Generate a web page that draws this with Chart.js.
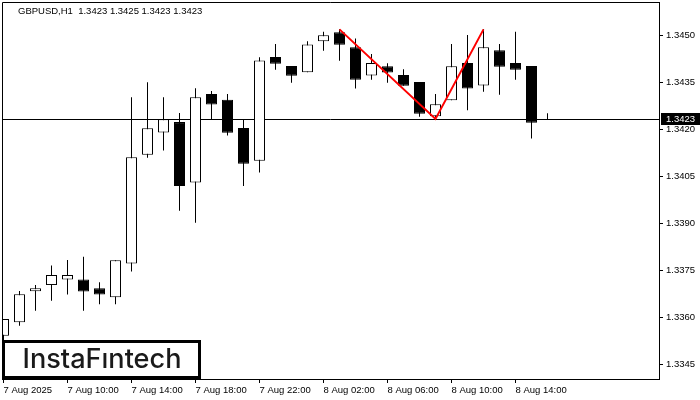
<!DOCTYPE html>
<html>
<head>
<meta charset="utf-8">
<script src="https://cdn.jsdelivr.net/npm/chart.js@4.4.0/dist/chart.umd.min.js"></script>
<style>
  html, body { margin: 0; padding: 0; background: #fff; }
  canvas { display: block; }
</style>
</head>
<body>
<canvas id="priceChart" width="700" height="400"></canvas>
<script>
// GBPUSD H1 candles, 7 Aug 06:00 .. 8 Aug 16:00 (one per hour)
const opens  = [1.33540, 1.33583, 1.33682, 1.33702, 1.33720, 1.33720, 1.33692, 1.33663, 1.33771, 1.34118,
                1.34189, 1.34222, 1.34029, 1.34312, 1.34293, 1.34203, 1.34099, 1.34430, 1.34401, 1.34381,
                1.34480, 1.34509, 1.34461, 1.34371, 1.34400, 1.34372, 1.34350, 1.34241, 1.34292, 1.34411,
                1.34339, 1.34451, 1.34411, 1.34401, 1.34230];
const highs  = [1.33594, 1.33683, 1.33702, 1.33764, 1.33782, 1.33792, 1.33711, 1.33781, 1.34301, 1.34349,
                1.34301, 1.34251, 1.34330, 1.34321, 1.34312, 1.34231, 1.34429, 1.34471, 1.34401, 1.34480,
                1.34510, 1.34518, 1.34489, 1.34439, 1.34410, 1.34391, 1.34350, 1.34312, 1.34471, 1.34500,
                1.34518, 1.34471, 1.34510, 1.34401, 1.34250];
const lows   = [1.33510, 1.33572, 1.33620, 1.33652, 1.33672, 1.33620, 1.33641, 1.33641, 1.33745, 1.34108,
                1.34131, 1.33939, 1.33901, 1.34231, 1.34179, 1.34018, 1.34061, 1.34389, 1.34348, 1.34381,
                1.34450, 1.34418, 1.34329, 1.34357, 1.34348, 1.34338, 1.34239, 1.34232, 1.34292, 1.34260,
                1.34319, 1.34309, 1.34357, 1.34170, 1.34230];
const closes = [1.33594, 1.33673, 1.33692, 1.33734, 1.33734, 1.33681, 1.33672, 1.33781, 1.34110, 1.34202,
                1.34231, 1.34018, 1.34301, 1.34278, 1.34188, 1.34089, 1.34419, 1.34408, 1.34370, 1.34470,
                1.34499, 1.34469, 1.34357, 1.34411, 1.34380, 1.34338, 1.34249, 1.34279, 1.34400, 1.34329,
                1.34461, 1.34399, 1.34389, 1.34220, 1.34230];

const xTickIndexes = [0, 4, 8, 12, 16, 20, 24, 28, 32];
const xTickLabels = ['7 Aug 2025', '7 Aug 10:00', '7 Aug 14:00', '7 Aug 18:00', '7 Aug 22:00',
                     '8 Aug 02:00', '8 Aug 06:00', '8 Aug 10:00', '8 Aug 14:00'];
const yTickValues = [1.3345, 1.3360, 1.3375, 1.3390, 1.3405, 1.3420, 1.3435, 1.3450];

const lastPrice = 1.3423;
const titleText = 'GBPUSD,H1  1.3423 1.3425 1.3423 1.3423';
const logoText = 'InstaF\u0131ntech';

// double top: first peak, neckline low, second peak
const patternIdx = [21, 27, 30];

document.addEventListener('DOMContentLoaded', () => {
  const canvas = document.getElementById('priceChart');
  const ctx = canvas.getContext('2d');

  const idx = opens.map((_, i) => i);
  const wicks = idx.map(i => ({ x: i, y: [lows[i], highs[i]] }));
  const bodies = idx.map(i => ({ x: i, y: [opens[i], closes[i]] }));
  const bodyColors = idx.map(i => (closes[i] >= opens[i] ? '#ffffff' : '#000000'));
  const pattern = [
    { x: patternIdx[0], y: highs[patternIdx[0]] },
    { x: patternIdx[1], y: lows[patternIdx[1]] },
    { x: patternIdx[2], y: highs[patternIdx[2]] },
  ];

  const axisFont = { family: '"Liberation Sans", Arial, sans-serif', size: 9.5 };

  const overlay = {
    id: 'overlay',
    beforeDatasetsDraw(chart) {
      const { ctx, chartArea: a, scales: { y } } = chart;
      const py = Math.floor(y.getPixelForValue(lastPrice)) + 0.5;
      ctx.save();
      ctx.strokeStyle = '#000';
      ctx.lineWidth = 1;
      ctx.beginPath();
      ctx.moveTo(a.left, py);
      ctx.lineTo(a.right, py);
      ctx.stroke();
      ctx.restore();
    },
    afterDraw(chart) {
      const { ctx, chartArea: a, scales: { y } } = chart;
      ctx.save();

      // left and top frame lines
      ctx.strokeStyle = '#000';
      ctx.lineWidth = 1;
      ctx.beginPath();
      ctx.moveTo(a.left + 0.5, a.bottom);
      ctx.lineTo(a.left + 0.5, a.top + 0.5);
      ctx.lineTo(a.right, a.top + 0.5);
      ctx.stroke();

      // symbol header
      ctx.fillStyle = '#000';
      ctx.font = '9.5px "Liberation Sans", Arial, sans-serif';
      ctx.textAlign = 'left';
      ctx.textBaseline = 'alphabetic';
      ctx.fillText(titleText, 18, 14);

      // current price label
      const py = Math.floor(y.getPixelForValue(lastPrice));
      ctx.fillStyle = '#000';
      ctx.fillRect(a.right + 2, py - 6, 700 - a.right - 2, 12);
      ctx.fillStyle = '#fff';
      ctx.textBaseline = 'middle';
      ctx.fillText(lastPrice.toFixed(4), a.right + 7, py + 0.5);

      // logo box
      ctx.fillStyle = '#fff';
      ctx.fillRect(2, 340, 199, 39);
      ctx.strokeStyle = '#000';
      ctx.lineWidth = 3;
      ctx.strokeRect(3.5, 341.5, 196, 36);
      let size = 26;
      ctx.font = '500 ' + size + 'px Inter, "Open Sans", sans-serif';
      const w = ctx.measureText(logoText).width;
      size = size * 159 / w;
      ctx.font = '500 ' + size.toFixed(2) + 'px Inter, "Open Sans", sans-serif';
      ctx.fillStyle = '#1a1a1a';
      ctx.textBaseline = 'alphabetic';
      ctx.fillText(logoText, 22.5, 368);

      ctx.restore();
    },
  };

  new Chart(ctx, {
    type: 'bar',
    data: {
      datasets: [
        {
          type: 'line',
          data: pattern,
          borderColor: '#ff0000',
          borderWidth: 2,
          pointRadius: 0,
          fill: false,
          order: 0,
        },
        {
          data: bodies,
          backgroundColor: bodyColors,
          borderColor: '#000000',
          borderWidth: 1,
          borderSkipped: false,
          barThickness: 11,
          inflateAmount: 0,
          grouped: false,
          order: 1,
        },
        {
          data: wicks,
          backgroundColor: '#000000',
          borderWidth: 0,
          barThickness: 1,
          inflateAmount: 0,
          grouped: false,
          order: 2,
        },
      ],
    },
    options: {
      responsive: false,
      animation: false,
      layout: { padding: { left: 2, top: 2, right: 0, bottom: 0 } },
      plugins: {
        legend: { display: false },
        tooltip: { enabled: false },
      },
      scales: {
        x: {
          type: 'linear',
          offset: false,
          min: -0.09375,
          max: 40.96875,
          afterBuildTicks: (s) => { s.ticks = xTickIndexes.map(v => ({ value: v })); },
          afterFit: (s) => { s.height = 21; s.paddingLeft = 0; s.paddingRight = 0; },
          grid: { offset: false, drawOnChartArea: false, drawTicks: true, tickLength: 4, color: '#000' },
          border: { display: true, color: '#000', width: 1 },
          ticks: {
            autoSkip: false,
            maxRotation: 0,
            align: 'start',
            padding: 2,
            color: '#000',
            font: axisFont,
            callback: (v, i) => xTickLabels[i],
          },
        },
        y: {
          type: 'linear',
          position: 'right',
          min: 1.3340213,
          max: 1.3460532,
          afterBuildTicks: (s) => { s.ticks = yTickValues.map(v => ({ value: v })); },
          afterFit: (s) => { s.width = 41; s.paddingTop = 0; s.paddingBottom = 0; },
          grid: { drawOnChartArea: false, drawTicks: true, tickLength: 4, color: '#000' },
          border: { display: true, color: '#000', width: 1 },
          ticks: {
            padding: 3,
            color: '#000',
            font: axisFont,
            callback: (v) => Number(v).toFixed(4),
          },
        },
      },
    },
    plugins: [overlay],
  });
});
</script>
</body>
</html>
